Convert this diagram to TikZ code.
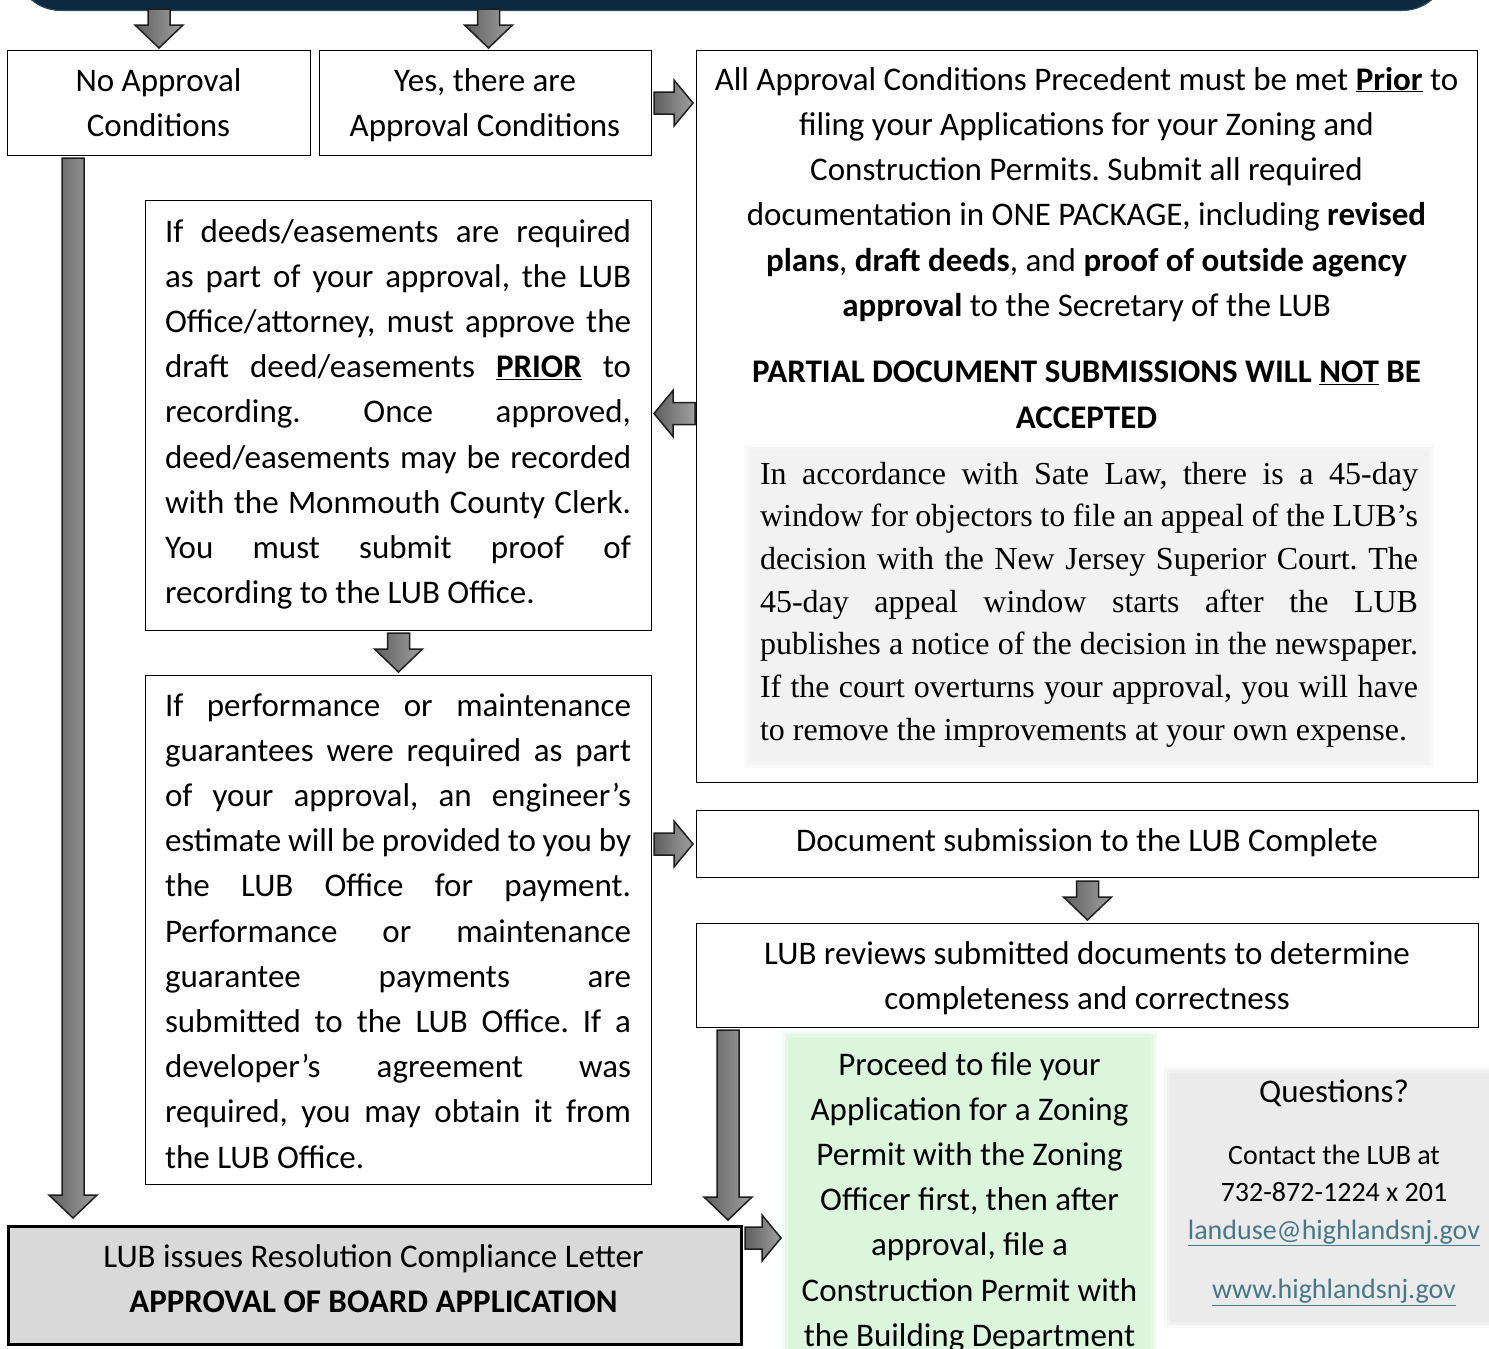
\documentclass[tikz,border=0pt]{standalone}
\usepackage{fontspec}
\setmainfont{Carlito}
\newfontfamily\serifTNR{Liberation Serif}
\usetikzlibrary{calc}
\definecolor{bannerc}{RGB}{14,41,61}
\definecolor{bannerl}{RGB}{45,80,100}
\definecolor{arrdark}{RGB}{95,95,95}
\definecolor{arrlight}{RGB}{160,160,160}
\definecolor{arrline}{RGB}{30,30,30}
\definecolor{shadec}{RGB}{242,242,242}
\definecolor{greenc}{RGB}{220,245,221}
\definecolor{questc}{RGB}{235,235,235}
\definecolor{finalc}{RGB}{217,217,217}
\definecolor{linkc}{RGB}{70,120,134}
\newcommand\LineC[1]{\hbox to\hsize{\hfil#1\hfil}}
\newcommand\LineJ[1]{\hbox to\hsize{#1}}
\newcommand\LineL[1]{\hbox to\hsize{#1\hfil}}
\newcommand\Tblock[3]{\vtop{\hsize=#1\relax#2#3}}
\newcommand\bodyf{\fontsize{33}{45.2}\selectfont}
\frenchspacing
\hbadness=10000
\hfuzz=30pt
\newcommand\arrD[2]{\path[blk] let \p1=#1,\p2=#2 in
  (\x1-11pt,\y1)--(\x1+11pt,\y1)--(\x1+11pt,\y2+23pt)--(\x1+24pt,\y2+23pt)--(\x1,\y2)
  --(\x1-24pt,\y2+23pt)--(\x1-11pt,\y2+23pt)--cycle;}
\newcommand\arrR[2]{\path[blk] let \p1=#1,\p2=#2 in
  (\x1,\y1+11pt)--(\x2-19pt,\y1+11pt)--(\x2-19pt,\y1+23pt)--(\x2,\y1)
  --(\x2-19pt,\y1-23pt)--(\x2-19pt,\y1-11pt)--(\x1,\y1-11pt)--cycle;}
\newcommand\arrL[2]{\path[blk] let \p1=#1,\p2=#2 in
  (\x1,\y1+11pt)--(\x2+19pt,\y1+11pt)--(\x2+19pt,\y1+23pt)--(\x2,\y1)
  --(\x2+19pt,\y1-23pt)--(\x2+19pt,\y1-11pt)--(\x1,\y1-11pt)--cycle;}
\newcommand\softhalo[3]{% color, corner1, corner2
  \fill[#1,opacity=.35] ($#2+(-6,-6)$) rectangle ($#3+(6,6)$);
  \fill[#1,opacity=.5] ($#2+(-3,-3)$) rectangle ($#3+(3,3)$);}
\begin{document}
\begin{tikzpicture}[x=1pt,y=-1pt,
  box/.style={draw=black,line width=1pt,fill=white,inner sep=0pt,anchor=north west},
  softbox/.style={inner sep=0pt,anchor=north west},
  txt/.style={inner sep=0pt,anchor=base},
  blk/.style={draw=arrline,line width=1.5pt,left color=arrdark,right color=arrlight,line join=miter}]
\useasboundingbox (0,0) rectangle (1489,1349);
\fill[white] (0,0) rectangle (1489,1349);

% banner
\node[fill=bannerc,draw=bannerl,line width=1pt,rounded corners=45pt,minimum width=1432pt,minimum height=100pt,inner sep=0pt,anchor=south west] (banner) at (15,11) {};

% boxes
\node[box,minimum width=303pt,minimum height=105pt] (na) at (7,50) {};
\node[box,minimum width=332pt,minimum height=105pt] (ya) at (319,50) {};
\node[box,minimum width=781pt,minimum height=732pt] (big) at (696,50) {};
\softhalo{shadec}{(750,450)}{(1428,762)}
\node[softbox,fill=shadec,minimum width=678pt,minimum height=312pt] (shade) at (750,450) {};
\node[box,minimum width=506pt,minimum height=430pt] (deeds) at (145,200) {};
\node[box,minimum width=506pt,minimum height=509pt] (perf) at (145,675) {};
\node[box,minimum width=782pt,minimum height=67pt] (doc) at (696,810) {};
\node[box,minimum width=782pt,minimum height=104pt] (rev) at (696,923) {};
\node[box,fill=finalc,line width=3pt,minimum width=733pt,minimum height=118pt] (final) at (7,1225) {};
\softhalo{greenc}{(788,1037)}{(1151,1360)}
\node[softbox,fill=greenc,minimum width=363pt,minimum height=323pt] (green) at (788,1037) {};
\softhalo{questc}{(1170,1073)}{(1489,1322)}
\node[softbox,fill=questc,minimum width=319pt,minimum height=249pt] (quest) at (1170,1073) {};

% texts
\node[txt] (na-t) at (158.5,91) {\Tblock{303pt}{\bodyf}{\LineC{No Approval}\LineC{Conditions}}};
\node[txt] (ya-t) at (485,91) {\Tblock{332pt}{\bodyf}{\LineC{Yes, there are}\LineC{Approval Conditions}}};
\node[txt] (big-t) at (1086.5,90) {\Tblock{781pt}{\fontsize{33}{45.3}\selectfont}{%
\LineC{All Approval Conditions Precedent must be met \textbf{\underline{Prior}} to}
\LineC{filing your Applications for your Zoning and}
\LineC{Construction Permits. Submit all required}
\LineC{documentation in ONE PACKAGE, including \textbf{revised}}
\LineC{\textbf{plans}, \textbf{draft deeds}, and \textbf{proof of outside agency}}
\LineC{\textbf{approval} to the Secretary of the LUB}
\vskip 21pt
\LineC{\textbf{PARTIAL DOCUMENT SUBMISSIONS WILL \underline{NOT} BE}}
\LineC{\textbf{ACCEPTED}}}};
\node[txt] (law-t) at (1089,484) {\Tblock{658pt}{\serifTNR\fontsize{32}{42.7}\selectfont}{%
\LineJ{In accordance with Sate Law, there is a 45-day}
\LineJ{window for objectors to file an appeal of the LUB’s}
\LineJ{decision with the New Jersey Superior Court. The}
\LineJ{45-day appeal window starts after the LUB}
\LineJ{publishes a notice of the decision in the newspaper.}
\LineJ{If the court overturns your approval, you will have}
\LineL{to remove the improvements at your own expense.}}};
\node[txt] (deeds-t) at (398,242) {\Tblock{466pt}{\bodyf}{%
\LineJ{If deeds/easements are required}
\LineJ{as part of your approval, the LUB}
\LineJ{Office/attorney, must approve the}
\LineJ{draft deed/easements \textbf{\underline{PRIOR}} to}
\LineJ{recording. Once approved,}
\LineJ{deed/easements may be recorded}
\LineJ{with the Monmouth County Clerk.}
\LineJ{You must submit proof of}
\LineL{recording to the LUB Office.}}};
\node[txt] (perf-t) at (398,716) {\Tblock{466pt}{\bodyf}{%
\LineJ{If performance or maintenance}
\LineJ{guarantees were required as part}
\LineJ{of your approval, an engineer’s}
\LineJ{estimate will be provided to you by}
\LineJ{the LUB Office for payment.}
\LineJ{Performance or maintenance}
\LineJ{guarantee payments are}
\LineJ{submitted to the LUB Office. If a}
\LineJ{developer’s agreement was}
\LineJ{required, you may obtain it from}
\LineL{the LUB Office.}}};
\node[txt] (doc-t) at (1087,851) {\Tblock{782pt}{\bodyf}{\LineC{Document submission to the LUB Complete}}};
\node[txt] (rev-t) at (1087,964) {\Tblock{782pt}{\bodyf}{\LineC{LUB reviews submitted documents to determine}\LineC{completeness and correctness}}};
\node[txt] (final-t) at (373.5,1267) {\Tblock{733pt}{\bodyf}{\LineC{LUB issues Resolution Compliance Letter}\LineC{\textbf{APPROVAL OF BOARD APPLICATION}}}};
\node[txt] (green-t) at (969.5,1075) {\Tblock{363pt}{\bodyf}{%
\LineC{Proceed to file your}
\LineC{Application for a Zoning}
\LineC{Permit with the Zoning}
\LineC{Officer first, then after}
\LineC{approval, file a}
\LineC{Construction Permit with}
\LineC{the Building Department}}};
\node[txt] (q-t) at (1334,1102) {\Tblock{319pt}{\fontsize{33}{38}\selectfont}{\LineC{Questions?}}};
\node[txt] (q-c) at (1334,1164) {\Tblock{319pt}{\fontsize{28}{37.5}\selectfont}{%
\LineC{Contact the LUB at}
\LineC{732-872-1224 x 201}
\LineC{\color{linkc}\underline{landuse@highlandsnj.gov}}
\vskip 22pt
\LineC{\color{linkc}\underline{www.highlandsnj.gov}}}};

% block arrows
\arrD{($(na.north)+(0,-41)$)}{($(na.north)+(0,-2)$)}
\arrD{($(ya.north)+(3,-41)$)}{($(ya.north)+(3,-2)$)}
\arrR{($(ya.east)+(2,0)$)}{($(big.west |- ya.east)+(-3,0)$)}
\arrL{($(big.west)+(-1,-3)$)}{($(deeds.east |- big.west)+(2,-3)$)}
\arrD{($(deeds.south)+(0,2)$)}{($(perf.north)+(0,-3)$)}
\arrR{($(perf.east |- doc.west)+(2,0)$)}{($(doc.west)+(-3,0)$)}
\arrD{($(doc.south)+(0,3)$)}{($(rev.north)+(0,-3)$)}
\arrD{($(na.south west)+(66,2)$)}{($(final.north west)+(66,-7)$)}
\arrD{($(rev.south west)+(32,2)$)}{($(final.north east)+(-12,-5)$)}
\arrR{($(final.north east)+(2,13)$)}{($(green.west |- final.north east)+(-7,13)$)}
\end{tikzpicture}
\end{document}
